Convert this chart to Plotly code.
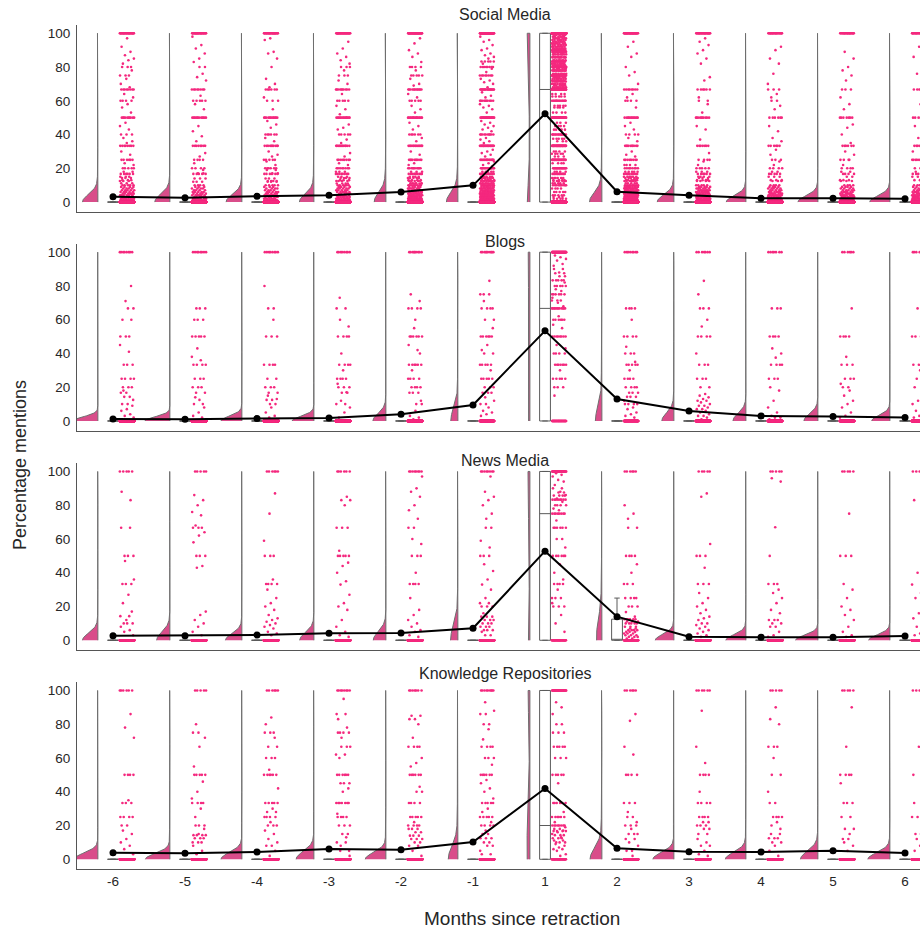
import numpy as np
import plotly.graph_objects as go

CATS = ["-6", "-5", "-4", "-3", "-2", "-1", "1", "2", "3", "4", "5", "6"]
FACETS = ["Social Media", "Blogs", "News Media", "Knowledge Repositories"]

# ---------------- Social Media ----------------
SM_MEAN = [3.1, 2.6, 3.4, 4.1, 6.0, 9.9, 52.3, 6.1, 4.1, 2.2, 2.2, 1.9]
SM_ZEROS = [1200, 1100, 1150, 1200, 1000, 1400, 470, 900, 1200, 1300, 1300, 1300]
SM_LEVELS = [
    [(100, 30), (80, 3), (75, 3), (66.7, 8), (60, 4), (50, 10), (40, 3), (33.3, 8), (25, 6), (20, 5), (16.7, 6), (14.3, 3), (12.5, 3), (11.1, 3), (10, 5),
     (1, 8), (2, 8), (3, 7), (4, 6), (5, 6), (6, 5), (7, 5), (8, 4), (9, 4), (13, 3), (15, 3), (18, 2)],
    [(100, 30), (80, 2), (66.7, 8), (60, 5), (50, 12), (33.3, 8), (25, 4), (20, 4), (16.7, 5), (10, 4),
     (1, 7), (2, 7), (3, 6), (4, 6), (5, 5), (6, 5), (7, 4), (8, 4), (9, 3), (12, 3), (14, 3), (17, 2)],
    [(100, 30), (66.7, 6), (60, 3), (50, 12), (40, 6), (33.3, 10), (25, 5), (20, 6), (16.7, 6), (12.5, 4), (10, 5),
     (1, 7), (2, 7), (3, 6), (4, 6), (5, 5), (6, 5), (7, 4), (8, 4), (9, 3), (12, 3), (14, 3), (17, 2), (19, 2)],
    [(100, 35), (80, 3), (75, 3), (66.7, 10), (60, 5), (50, 14), (40, 5), (33.3, 12), (25, 8), (20, 8), (16.7, 8), (14.3, 4), (12.5, 4), (10, 6),
     (1, 9), (2, 9), (3, 8), (4, 7), (5, 6), (6, 6), (7, 5), (8, 5), (9, 4), (11, 4), (13, 3), (15, 3), (18, 3)],
    [(100, 45), (80, 4), (75, 5), (66.7, 12), (60, 5), (50, 16), (40, 6), (33.3, 14), (25, 10), (20, 10), (16.7, 10), (14.3, 5), (12.5, 5), (11.1, 4), (10, 8),
     (1, 12), (2, 12), (3, 10), (4, 10), (5, 8), (6, 8), (7, 7), (8, 6), (9, 5), (11, 5), (13, 4), (15, 4), (18, 3)],
    [(100, 70), (83.3, 5), (80, 8), (75, 8), (66.7, 20), (60, 10), (50, 25), (40, 10), (33.3, 22), (25, 15), (20, 15), (16.7, 14), (14.3, 8), (12.5, 8), (11.1, 6), (10, 10),
     (1, 16), (2, 16), (3, 14), (4, 13), (5, 12), (6, 11), (7, 10), (8, 9), (9, 8), (11, 7), (13, 6), (15, 6), (18, 5)],
    [(100, 440), (66.7, 80), (50, 50), (33.3, 40), (25, 25), (20, 20), (40, 15), (60, 15), (16.7, 12), (10, 10), (14.3, 6), (12.5, 6), (11.1, 5),
     (42.9, 5), (28.6, 5), (37.5, 5), (57.1, 5), (62.5, 5), (2, 5), (4, 5), (6, 5), (8, 4), (13, 4), (18, 4), (23, 4), (30, 4), (36, 3), (45, 4),
     (53, 4), (56, 4), (64, 4), (3, 3), (47, 3), (27, 3),
     (75, 45), (80, 40), (83.3, 20), (85.7, 10), (87.5, 10), (90, 12), (71.4, 10), (70, 8), (77.8, 8), (88.9, 8), (68, 8), (69, 6), (72, 8), (73, 8),
     (74, 6), (76, 8), (78, 8), (79, 6), (81, 8), (82, 8), (84, 8), (86, 7), (89, 7), (91, 8), (92, 8), (93, 7), (94, 7), (95, 7), (96, 7), (97, 7),
     (98, 6), (99, 5)],
    [(100, 40), (66.7, 8), (60, 4), (50, 12), (40, 4), (33.3, 10), (25, 8), (20, 8), (16.7, 10), (14.3, 6), (12.5, 6), (11.1, 5), (10, 8),
     (1, 16), (2, 16), (3, 14), (4, 13), (5, 12), (6, 11), (7, 10), (8, 9), (9, 8), (13, 6), (15, 6), (18, 5), (22, 4)],
    [(100, 30), (66.7, 6), (60, 2), (50, 10), (33.3, 7), (25, 4), (20, 5), (16.7, 6), (14.3, 3), (12.5, 4), (10, 5),
     (1, 12), (2, 12), (3, 10), (4, 10), (5, 8), (6, 8), (7, 7), (8, 6), (9, 5), (13, 4), (15, 4), (18, 3)],
    [(100, 25), (66.7, 3), (60, 2), (50, 6), (33.3, 6), (25, 3), (20, 4), (16.7, 5), (12.5, 3), (10, 4),
     (1, 10), (2, 10), (3, 8), (4, 8), (5, 7), (6, 6), (7, 5), (8, 5), (9, 4), (13, 3), (15, 3), (18, 2)],
    [(100, 25), (66.7, 3), (50, 7), (33.3, 6), (25, 3), (20, 4), (16.7, 4), (12.5, 3), (10, 4),
     (1, 9), (2, 9), (3, 8), (4, 7), (5, 6), (6, 6), (7, 5), (8, 4), (9, 4), (13, 3), (15, 2), (18, 2)],
    [(100, 25), (66.7, 5), (50, 6), (33.3, 6), (25, 8), (20, 4), (16.7, 5), (10, 4),
     (1, 10), (2, 10), (3, 9), (4, 8), (5, 7), (6, 6), (7, 5), (8, 5), (9, 4), (13, 3), (15, 3), (18, 2)],
]
SM_SINGLES = [
    [97, 92, 89, 87, 85, 84, 82, 78, 73, 70, 68, 64, 62, 58, 56, 53, 47, 45, 43, 38, 36, 35, 30, 28, 23, 22],
    [98, 93, 91, 88, 85, 83, 76, 74, 72, 63, 58, 55, 45, 42, 39, 36, 29, 27, 23, 19],
    [97, 96, 89, 88, 85, 80, 73, 70, 68, 62, 55, 48, 46, 44, 38, 36, 30, 28, 27, 24, 22],
    [95, 91, 88, 86, 84, 82, 78, 72, 70, 64, 57, 55, 52, 46, 44, 43, 37, 35, 29, 27, 23, 22],
    [97, 94, 90, 88, 86, 83, 78, 73, 70, 69, 64, 62, 57, 55, 53, 47, 45, 43, 38, 36, 30, 28, 23, 22],
    [98, 96, 95, 93, 91, 90, 88, 87, 86, 85, 82, 79, 77, 73, 72, 71, 70, 68, 65, 63, 62, 58, 57, 56, 55, 53, 48, 47, 46, 45, 44, 43, 42,
     38, 37, 36, 35, 31, 30, 29, 28, 27, 24, 23, 22, 21],
    [],
    [95, 92, 88, 86, 80, 77, 75, 70, 64, 62, 56, 47, 45, 43, 38, 36, 30, 28, 27],
    [97, 95, 93, 90, 88, 85, 82, 74, 72, 62, 58, 53, 45, 43, 37, 29, 24, 22],
    [92, 90, 85, 82, 76, 70, 64, 62, 57, 55, 45, 42, 38, 36, 31, 28, 24, 22],
    [89, 85, 80, 78, 75, 72, 62, 58, 55, 46, 44, 40, 35, 30, 28, 25, 22],
    [92, 86, 80, 76, 62, 58, 45, 42, 38, 30, 22],
]

# ---------------- Blogs ----------------
BL_MEAN = [1.2, 1.0, 1.4, 1.8, 4.0, 9.5, 53.4, 13.0, 5.9, 3.0, 2.6, 2.0]
BL_ZEROS = [1200, 1200, 850, 950, 540, 255, 55, 170, 400, 400, 380, 560]
BL_LEVELS = [
    [(100, 8), (66.7, 2), (60, 2), (50, 3), (33.3, 3), (25, 4), (20, 3), (16.7, 2), (14.3, 2), (12.5, 1), (10, 2)],
    [(100, 8), (66.7, 3), (60, 3), (50, 5), (33.3, 4), (25, 3), (20, 3), (16.7, 2), (12.5, 1), (10, 2)],
    [(100, 8), (66.7, 2), (50, 3), (33.3, 4), (25, 2), (20, 3), (16.7, 2), (12.5, 2), (10, 2)],
    [(100, 8), (66.7, 2), (60, 1), (50, 4), (40, 1), (33.3, 4), (25, 4), (20, 3), (16.7, 2), (10, 2)],
    [(100, 9), (66.7, 4), (60, 1), (50, 6), (40, 1), (33.3, 6), (25, 4), (20, 4), (16.7, 3), (10, 2)],
    [(100, 10), (75, 3), (66.7, 4), (60, 2), (50, 6), (40, 2), (33.3, 5), (25, 5), (20, 3), (16.7, 3), (10, 2)],
    [(100, 55), (66.7, 12), (60, 6), (50, 8), (40, 4), (33.3, 7), (25, 5), (20, 3), (75, 6), (80, 5), (83.3, 5), (85.7, 2), (90, 2), (71.4, 3), (87.5, 2)],
    [(100, 8), (66.7, 4), (50, 4), (40, 3), (33.3, 5), (25, 4), (20, 4), (16.7, 3), (14.3, 3), (10, 4)],
    [(100, 7), (66.7, 3), (50, 4), (33.3, 3), (25, 3), (20, 2)],
    [(100, 7), (66.7, 3), (50, 4), (33.3, 4), (25, 3)],
    [(100, 6), (50, 4), (33.3, 3), (25, 3), (20, 2)],
    [(100, 6), (66.7, 2), (50, 3), (33.3, 3), (25, 2)],
]
BL_SINGLES = [
    [80, 71, 45, 41, 18, 9, 7, 6, 4, 3, 2],
    [43, 38, 36, 14, 8, 5, 3, 2],
    [80, 60, 15, 13, 8, 5, 3, 2, 1],
    [73, 56, 30, 22, 17, 12, 8, 5, 2],
    [75, 71, 55, 45, 42, 30, 12, 6, 3, 2, 1],
    [83, 71, 55, 45, 42, 30, 14, 12, 8, 6, 5, 4, 3],
    [62, 57, 55, 45, 43, 30, 15, 68, 70, 73, 77, 78, 82, 88, 92, 93, 95, 96, 97, 98],
    [60, 44, 35, 30, 12, 8, 7, 5, 4, 3, 2],
    [83, 75, 60, 56, 40, 16, 15, 14, 13, 12, 12, 11, 10, 9, 9, 8, 7, 7, 6, 5, 4, 3, 3, 2, 1],
    [43, 40, 37.5, 20, 18, 12, 8, 5, 3, 2, 2, 1],
    [66.7, 38, 22, 18, 15, 12, 10, 8, 5, 3, 2],
    [40, 30, 20, 15, 12, 10, 8, 6, 4, 3, 2],
]

# ---------------- News Media ----------------
NM_MEAN = [2.7, 2.7, 3.1, 4.1, 4.3, 7.1, 52.8, 14.0, 2.1, 1.8, 1.8, 2.5]
NM_ZEROS = [400, 400, 450, 450, 450, 200, 44, 70, 500, 550, 550, 500]
NM_LEVELS = [
    [(100, 5), (66.7, 2), (50, 3), (33.3, 3), (14.3, 2), (10, 3)],
    [(100, 5), (66.7, 3), (50, 3)],
    [(100, 6), (50, 3), (33.3, 4)],
    [(100, 6), (66.7, 3), (50, 5)],
    [(100, 8), (66.7, 2), (50, 3), (33.3, 4)],
    [(100, 8), (66.7, 2), (50, 3), (20, 3)],
    [(100, 42), (75, 8), (66.7, 6), (50, 6), (33.3, 4), (25, 3), (20, 3), (60, 2), (83.3, 8), (85.7, 4), (80, 4), (87.5, 2), (90, 2)],
    [(100, 6), (66.7, 2), (50, 4), (33.3, 3), (25, 4), (20, 3), (12.5, 6), (10, 5), (11.1, 3), (8, 3), (6, 4), (5, 3), (4, 3), (3, 3), (2, 3), (1, 2), (7, 2)],
    [(100, 5), (50, 3), (33.3, 3)],
    [(100, 5), (33.3, 3)],
    [(100, 5), (50, 3)],
    [(100, 5)],
]
NM_SINGLES = [
    [88, 83, 47, 36, 27, 22, 17, 12, 8, 6, 5, 3],
    [86, 83, 80, 76, 74, 68, 64, 62, 58, 44, 43, 17, 15, 12, 10, 8, 5, 3],
    [87, 75, 59, 36, 30, 25, 22, 20, 18, 15, 13, 12, 11, 10, 9, 8, 7, 5, 4, 3],
    [85, 83, 83, 80, 53, 46, 44, 40, 35, 33, 27, 22, 20, 18, 12, 8, 5, 3, 2],
    [97, 90, 88, 85, 80, 77, 72, 60, 57, 40, 25, 18, 15, 12, 10, 8, 6, 5, 3, 2],
    [97, 88, 85, 83, 80, 75, 72, 59, 55, 45, 41, 36, 33, 30, 25, 22, 22, 16, 14, 14, 14, 12, 12, 12, 10, 10, 10, 8, 8, 8, 6, 6, 6, 5, 3, 3],
    [71, 55, 45, 40, 36, 30, 22, 15, 10, 5, 77, 78, 82, 84, 86, 88, 92, 94, 95, 97, 98, 99],
    [80, 75, 72, 45, 40, 16.7, 14],
    [87, 85, 57, 43, 28, 25, 22, 20, 18, 16, 14, 13, 12, 10, 10, 9, 8, 7, 6, 5, 4, 3, 2],
    [96, 94, 67, 50, 30, 28, 25, 22, 18, 16, 12, 12, 12, 10, 10, 8, 8, 5, 3, 2],
    [75, 33.3, 30, 25, 20, 18, 15, 12, 8, 5, 3, 2],
    [83, 50, 40, 33, 28, 25, 20, 16, 13, 10, 8, 6, 4, 3, 2],
]

# ---------------- Knowledge Repositories ----------------
KR_MEAN = [3.9, 3.5, 4.3, 6.1, 5.7, 10.2, 41.9, 6.5, 4.5, 4.3, 5.1, 3.7]
KR_ZEROS = [550, 600, 600, 600, 650, 250, 44, 200, 450, 450, 300, 350]
KR_LEVELS = [
    [(100, 6), (50, 4), (33.3, 3), (25, 4), (20, 2)],
    [(100, 5), (75, 2), (50, 5), (33.3, 4), (20, 3), (14.3, 4), (12.5, 3), (10, 3)],
    [(100, 6), (75, 3), (66.7, 2), (60, 3), (50, 6), (33.3, 5), (25, 4), (20, 3)],
    [(100, 8), (86, 2), (75, 4), (66.7, 3), (50, 6), (45, 3), (33.3, 7), (25, 4), (20, 3), (15, 2), (10, 2), (5, 2)],
    [(100, 7), (66.7, 4), (50, 6), (40, 2), (33.3, 4), (25, 5), (20, 4)],
    [(100, 9), (86, 2), (80, 2), (66.7, 4), (60, 3), (50, 6), (33.3, 5), (25, 5), (20, 4), (15, 2), (12.5, 3), (10, 2), (8, 2), (3, 2)],
    [(100, 42), (20, 8), (16.7, 4), (14.3, 3), (12.5, 3), (10, 3), (11.1, 2), (25, 6), (33.3, 6), (50, 5), (66.7, 5), (60, 3), (75, 3), (80, 2)],
    [(100, 6), (50, 4), (33.3, 3), (25, 2), (20, 3), (15, 3), (5, 2)],
    [(100, 6), (50, 4), (33.3, 4), (25, 4), (20, 3), (18, 2), (15, 2)],
    [(100, 5), (66.7, 3), (50, 2), (33.3, 2), (25, 4), (15, 2), (12.5, 3), (10, 2)],
    [(100, 5), (50, 4), (33.3, 3), (25, 2), (18, 2), (12, 2)],
    [(100, 5), (33.3, 2), (25, 2), (15, 3)],
]
KR_SINGLES = [
    [86, 78, 72, 35, 17, 15, 12, 10, 8, 6, 3],
    [80, 72, 66.7, 55, 46, 40, 36, 30, 25, 18, 15, 8, 5, 3],
    [84, 80, 72, 53, 42, 30, 28, 28, 22, 17, 15, 12, 10, 8, 8, 5, 2],
    [95, 83, 78, 72, 62, 62, 60, 42, 40, 27, 13, 8, 2],
    [85, 85, 83, 83, 80, 72, 60, 57, 55, 43, 22, 18, 18, 18, 16, 16, 14, 14, 14, 12, 12, 12, 10, 10, 8, 8, 5, 2],
    [93, 88, 77, 71, 56, 47, 45, 42, 40, 36, 30, 28, 22, 17, 5],
    [19, 18, 18, 17, 16, 15, 13, 9, 8, 7, 6, 6, 5, 3, 2, 22, 28, 45, 86, 90, 93],
    [86, 82, 66.7, 62, 28, 22, 18, 12, 12, 10, 8, 2],
    [88, 66.7, 57, 40, 22, 22, 12, 10, 8, 8, 5, 3, 2],
    [90, 83, 80, 60, 40, 22, 20, 18, 8, 5, 2],
    [90, 66.7, 45, 15, 10, 8, 5],
    [66.7, 50, 20, 12, 10, 8, 5, 3],
]

FACET_DATA = [
    (SM_LEVELS, SM_SINGLES, SM_ZEROS, SM_MEAN),
    (BL_LEVELS, BL_SINGLES, BL_ZEROS, BL_MEAN),
    (NM_LEVELS, NM_SINGLES, NM_ZEROS, NM_MEAN),
    (KR_LEVELS, KR_SINGLES, KR_ZEROS, KR_MEAN),
]

# ---------------- styling ----------------
FONT = "Liberation Sans, Arial, sans-serif"
TXT = "#262626"
PINK = "#f4287e"
VIOLIN_FILL = "#d94d8a"
VIOLIN_EDGE = "#6e6e6e"
AX_LINE = "#555555"
X_VIOLIN = -0.21
X_STRIP = 0.195
JITTER = 0.10
VIOLIN_W = [0.28, 0.35, 0.31, 0.34]
Y_DOMAINS = [(0.77237, 0.97312), (0.53699, 0.73774), (0.30118, 0.50194), (0.06570, 0.26645)]
Y_RANGE = [-5.7, 104.9]
X_RANGE = [-0.5, 11.208]
X_DOMAIN = [0.0837, 1.0]
TITLE_Y = [1 - 15 / 930, 1 - 241 / 930, 1 - 460 / 930, 1 - 673 / 930]


def expand(levels, singles, zeros):
    vals = []
    for v, c in levels:
        vals += [v] * c
    vals += list(singles)
    vals += [0] * zeros
    return np.array(vals, dtype=float)


def kde(d):
    lo, hi = d.min(), d.max()
    g = np.linspace(lo, hi, 301)
    bw = d.std(ddof=1) * len(d) ** (-0.2)
    u, cnt = np.unique(d, return_counts=True)
    z = (g[:, None] - u[None, :]) / bw
    k = (np.exp(-0.5 * z * z) * cnt[None, :]).sum(1) / (len(d) * bw * np.sqrt(2 * np.pi))
    return g, k


fig = go.Figure()
layout = {}
annotations = []

for f in range(4):
    levels, singles, zeros, means = FACET_DATA[f]
    sfx = "" if f == 0 else str(f + 1)
    xa, ya = "x" + sfx, "y" + sfx
    datas = [expand(levels[i], singles[i], zeros[i]) for i in range(len(CATS))]

    # half violins (area scaled within the facet)
    dens = [kde(d) for d in datas]
    mx = max(k.max() for _, k in dens)
    for i, (g, k) in enumerate(dens):
        xv = i + X_VIOLIN
        w = k / mx * VIOLIN_W[f]
        xs = np.concatenate([xv - w, [xv, xv]])
        ys = np.concatenate([g, [g[-1], g[0]]])
        fig.add_trace(go.Scatter(x=xs, y=ys, mode="lines", fill="toself", fillcolor=VIOLIN_FILL,
                                 line=dict(color=VIOLIN_EDGE, width=1), xaxis=xa, yaxis=ya,
                                 hoverinfo="skip", showlegend=False))

    # boxes
    q1s, meds, q3s, lfs, ufs = [], [], [], [], []
    for d in datas:
        q1, md, q3 = np.percentile(d, [25, 50, 75])
        iqr = q3 - q1
        q1s.append(q1); meds.append(md); q3s.append(q3)
        lfs.append(d[d >= q1 - 1.5 * iqr].min())
        ufs.append(d[d <= q3 + 1.5 * iqr].max())
    fig.add_trace(go.Box(x=list(range(len(CATS))), q1=q1s, median=meds, q3=q3s, lowerfence=lfs, upperfence=ufs,
                         width=0.15, whiskerwidth=0.5, fillcolor="white", line=dict(color="#5a5a5a", width=1),
                         boxpoints=False, xaxis=xa, yaxis=ya, hoverinfo="skip", showlegend=False))

    # strip (deterministic jitter)
    sx, sy = [], []
    for i, d in enumerate(datas):
        kk = np.arange(len(d))
        off = ((kk * 0.6180339887 + i * 0.37) % 1.0 - 0.5) * 2 * JITTER
        sx.append(i + X_STRIP + off)
        sy.append(d)
    fig.add_trace(go.Scatter(x=np.concatenate(sx), y=np.concatenate(sy), mode="markers",
                             marker=dict(size=2.6, color=PINK, line=dict(width=0)),
                             xaxis=xa, yaxis=ya, hoverinfo="skip", showlegend=False))

    # means
    fig.add_trace(go.Scatter(x=list(range(len(CATS))), y=means, mode="lines+markers",
                             line=dict(color="black", width=2), marker=dict(size=7, color="black"),
                             xaxis=xa, yaxis=ya, hoverinfo="skip", showlegend=False))

    layout["xaxis" + sfx] = dict(domain=X_DOMAIN, range=X_RANGE, anchor=ya, type="linear",
                                 showline=True, linecolor=AX_LINE, linewidth=1.2, showgrid=False, zeroline=False,
                                 tickvals=list(range(len(CATS))), ticktext=CATS, ticks="",
                                 showticklabels=(f == 3), tickfont=dict(size=13.5, color=TXT, family=FONT),
                                 automargin=False)
    layout["yaxis" + sfx] = dict(domain=list(Y_DOMAINS[f]), range=Y_RANGE, anchor=xa,
                                 showline=True, linecolor=AX_LINE, linewidth=1.2, showgrid=False, zeroline=False,
                                 tickvals=[0, 20, 40, 60, 80, 100], ticks="", ticklabelstandoff=3,
                                 tickfont=dict(size=13.5, color=TXT, family=FONT), automargin=False)
    annotations.append(dict(text=FACETS[f], x=0.549, y=TITLE_Y[f], xref="paper", yref="paper",
                            showarrow=False, xanchor="center", yanchor="middle",
                            font=dict(size=16, color=TXT, family=FONT)))

annotations.append(dict(text="Percentage mentions", x=20 / 920, y=0.5, xref="paper", yref="paper",
                        showarrow=False, textangle=-90, xanchor="center", yanchor="middle",
                        font=dict(size=18, color=TXT, family=FONT)))
annotations.append(dict(text="Months since retraction", x=522 / 920, y=1 - 918 / 930, xref="paper", yref="paper",
                        showarrow=False, xanchor="center", yanchor="middle",
                        font=dict(size=19, color=TXT, family=FONT)))

fig.update_layout(width=920, height=930, margin=dict(l=0, r=0, t=0, b=0),
                  paper_bgcolor="white", plot_bgcolor="white", showlegend=False,
                  font=dict(family=FONT, color=TXT), annotations=annotations, **layout)

fig.write_html("out.html", config={"displayModeBar": False},
               post_script="document.body.style.margin='0';document.body.style.padding='0';")
